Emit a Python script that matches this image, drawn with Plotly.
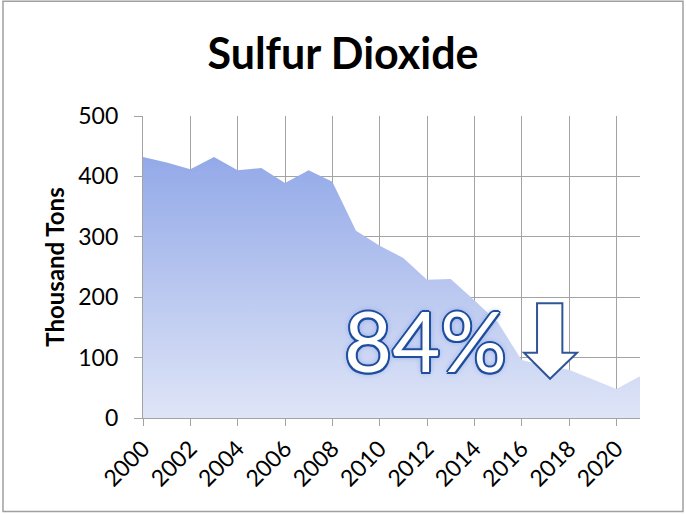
import plotly.graph_objects as go

years = list(range(2000, 2022))
so2 = [432, 423, 412, 432, 410, 414, 389, 410, 391, 310, 285, 265,
       229, 230, 195, 158, 96, 86, 80, 64, 48, 69]
tick_years = list(range(2000, 2021, 2))

title_text = "Sulfur Dioxide"
y_title = "Thousand Tons"
callout = "84%"

GRID = "#a3a3a3"
FONT = "Lato, Carlito, Calibri, sans-serif"

fig = go.Figure()
fig.add_trace(go.Scatter(
    x=years, y=so2, mode="lines", fill="tozeroy",
    line=dict(width=0, color="rgba(0,0,0,0)"),
    fillgradient=dict(type="vertical",
                      colorscale=[[0, "#dfe5f7"], [1, "#93a9e8"]]),
    hoverinfo="x+y", showlegend=False,
))

# callout text
outline = "#1f4e9c"
shadow = ", ".join(f"{dx}px {dy}px 0 {outline}" for dx, dy in
                   [(-2, 0), (2, 0), (0, -2), (0, 2), (-1.5, -1.5), (1.5, -1.5), (-1.5, 1.5), (1.5, 1.5)])
shadow += ", 0 0 6px #6d8ee0"
fig.add_annotation(x=2011.95, y=129, xref="x", yref="y", text=callout,
                   showarrow=False,
                   font=dict(family=FONT, size=83, color="white", shadow=shadow))

# hollow down arrow
ax_l, ax_r, hx_l, hx_r, tip_x = 2016.65, 2017.72, 2016.1, 2018.34, 2017.2
ay_top, ay_head, ay_tip = 190, 108, 65
path = (f"M {ax_l} {ay_top} L {ax_r} {ay_top} L {ax_r} {ay_head} L {hx_r} {ay_head} "
        f"L {tip_x} {ay_tip} L {hx_l} {ay_head} L {ax_l} {ay_head} Z")
fig.add_shape(type="path", path=path, xref="x", yref="y",
              fillcolor="white", line=dict(color="#2f5597", width=2))

# chart border
fig.add_shape(type="rect", xref="paper", yref="paper",
              x0=-0.2817, x1=1.0865, y0=-0.310, y1=1.3797,
              line=dict(color="#a0a0a0", width=1.5), fillcolor="rgba(0,0,0,0)",
              layer="above")

fig.update_layout(
    width=686, height=514,
    margin=dict(l=143, r=46, t=116, b=96),
    paper_bgcolor="white", plot_bgcolor="white",
    title=dict(text=f"<b>{title_text}</b>", x=0.5, xanchor="center",
               y=1 - 54 / 514, yanchor="middle",
               font=dict(family=FONT, size=43, color="black")),
    font=dict(family=FONT, color="black"),
    xaxis=dict(range=[2000, 2021], tickvals=tick_years,
               ticktext=[str(y) for y in tick_years], tickangle=-45,
               showgrid=True, gridcolor=GRID, gridwidth=1.3,
               showline=True, linecolor=GRID, linewidth=1.3,
               ticks="outside", ticklen=7, tickcolor=GRID,
               tickfont=dict(size=23), zeroline=False),
    yaxis=dict(range=[0, 500], dtick=100,
               showgrid=True, gridcolor=GRID, gridwidth=1.3,
               showline=True, linecolor=GRID, linewidth=1.3,
               ticks="outside", ticklen=8, tickcolor=GRID,
               ticklabelstandoff=11,
               tickfont=dict(size=23), zeroline=False,
               title=dict(text=f"<b>{y_title}</b>", font=dict(size=24),
                          standoff=6)),
)

fig.write_html("out.html", config={"displayModeBar": False},
               post_script="document.body.style.margin='0';document.body.style.overflow='hidden';")
